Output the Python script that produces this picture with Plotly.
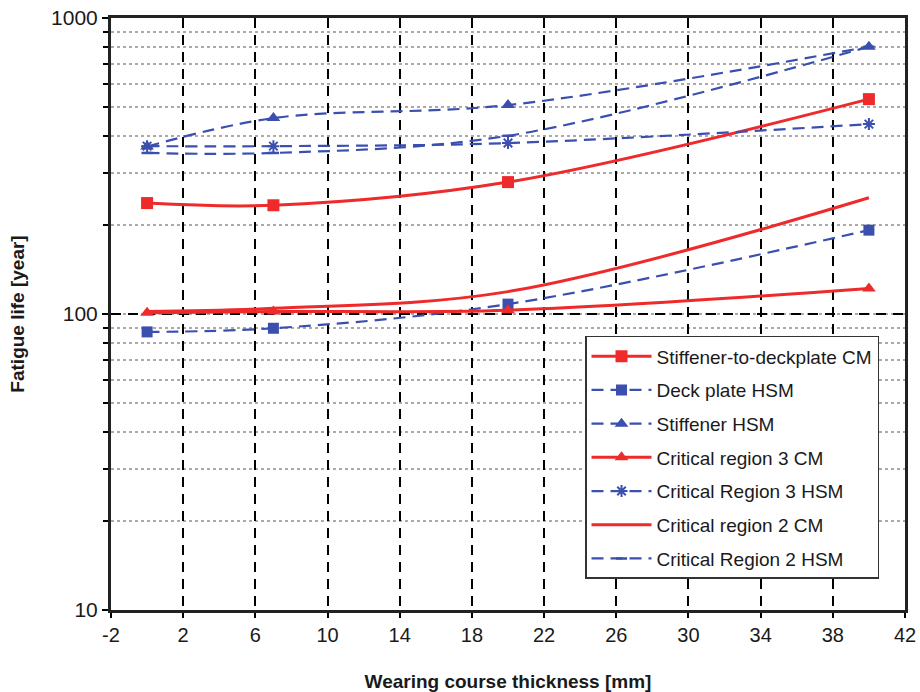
import plotly.graph_objects as go

thickness = [0, 7, 20, 40]

stiff_deck_cm = [237, 233, 279, 532]
deck_plate_hsm = [87, 89.5, 108, 192]
stiffener_hsm = [368, 459, 508, 800]
crit3_cm = [101, 102, 103, 122]
crit3_hsm = [369, 369, 378, 438]
crit2_cm = [102, 104.5, 119, 247]
crit2_hsm = [350, 350, 400, 800]

x_ticks = list(range(-2, 43, 4))

RED = "#EE2A2A"
BLUE = "#3A4FAE"
DASH = "12px,7px"

fig = go.Figure()

def add(name, y, color, dash, width, symbol=None, msize=11, mline=0):
    mode = "lines+markers" if symbol else "lines"
    fig.add_trace(go.Scatter(
        x=thickness, y=y, name=name, mode=mode, legendgroup=name,
        line=dict(color=color, width=width, dash=dash, shape="spline", smoothing=1.0),
        marker=dict(symbol=symbol or "circle", size=msize, color=color,
                    line=dict(color=color, width=mline)),
    ))

add("Stiffener-to-deckplate CM", stiff_deck_cm, RED, "solid", 3, "square", 12)
add("Deck plate HSM", deck_plate_hsm, BLUE, DASH, 2.2, "square", 11)
add("Stiffener HSM", stiffener_hsm, BLUE, DASH, 2.2, "triangle-up", 12)
add("Critical region 3 CM", crit3_cm, RED, "solid", 3, "triangle-up", 12)
add("Critical Region 3 HSM", crit3_hsm, BLUE, DASH, 2.2, "asterisk-open", 10, 2)
add("Critical region 2 CM", crit2_cm, RED, "solid", 3)
add("Critical Region 2 HSM", crit2_hsm, BLUE, DASH, 2.2, "line-ew-open", 8, 2.5)

fig.update_layout(
    width=920, height=692,
    margin=dict(l=111, r=15, t=18, b=82),
    paper_bgcolor="white", plot_bgcolor="white",
    font=dict(family="Liberation Sans, Arial, sans-serif", color="#1a1a1a"),
    showlegend=True,
    legend=dict(
        x=0.597, y=0.463, xanchor="left", yanchor="top",
        bgcolor="white", bordercolor="#333", borderwidth=1.5,
        font=dict(size=19, color="#1a1a1a"),
        itemwidth=60, tracegroupgap=6,
    ),
    xaxis=dict(
        range=[-2, 42], tickmode="array", tickvals=x_ticks,
        ticktext=[str(v) for v in x_ticks],
        tickfont=dict(size=20), automargin=False,
        ticks="outside", ticklen=5, tickwidth=2, tickcolor="black",
        showgrid=True, gridcolor="black", gridwidth=2, griddash="10px,7px",
        showline=True, linecolor="#222", linewidth=3, mirror=True,
        zeroline=False,
        title=dict(text="<b>Wearing course thickness [mm]</b>", font=dict(size=19), standoff=30),
    ),
    yaxis=dict(
        type="log", range=[1, 3],
        tickvals=[10, 100, 1000], ticktext=["10", "100", "1000"],
        tickfont=dict(size=21), automargin=False,
        ticks="outside", ticklen=6, tickwidth=2, tickcolor="black",
        showgrid=True, gridcolor="black", gridwidth=2, griddash="10px,7px",
        minor=dict(dtick="D1", showgrid=True, gridcolor="#AAAAAA", gridwidth=1.5,
                   griddash="dot", ticks="outside", ticklen=5, tickcolor="black", tickwidth=2),
        showline=True, linecolor="#222", linewidth=3, mirror=True,
        zeroline=False,
        title=dict(text="<b>Fatigue life [year]</b>", font=dict(size=19), standoff=22),
    ),
)

fig.write_html("out.html")
